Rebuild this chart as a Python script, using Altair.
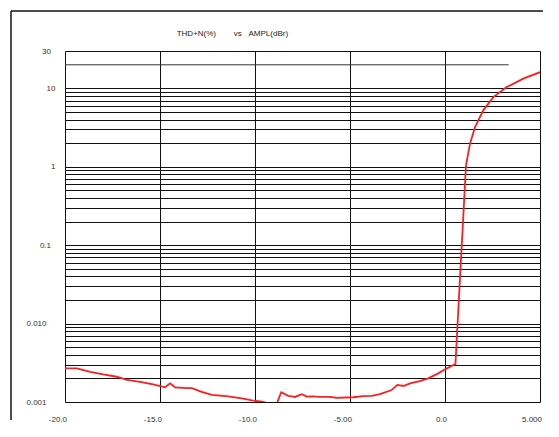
import altair as alt
import pandas as pd

# ---- data ----
dbr = [-20.0, -19.38, -18.68, -18.0, -17.28, -16.75, -16.05, -15.37, -14.74, -14.47,
       -14.21, -13.59, -13.33, -12.81, -12.28, -11.42, -10.70, -10.17, -9.65, -9.3,
       -8.85, -8.62, -8.26, -7.89, -7.54, -7.28, -6.95, -6.58, -6.05, -5.70,
       -4.83, -4.30, -3.86, -3.42, -2.81, -2.51, -2.19, -1.84, -1.32, -0.88,
       -0.35, 0.0, 0.55, 1.105, 1.316, 1.58, 2.016, 2.542, 3.247, 4.12, 5.0]
thd = [0.00269, 0.00269, 0.00243, 0.00225, 0.00210, 0.00191, 0.00181, 0.00168, 0.00154, 0.00173,
       0.00154, 0.00150, 0.00150, 0.00135, 0.00123, 0.00118, 0.00111, 0.00105, 0.00101, 0.00096,
       0.00096, 0.00133, 0.00120, 0.00116, 0.00126, 0.00117, 0.00118, 0.00116, 0.00116, 0.00113,
       0.00115, 0.00119, 0.00120, 0.00126, 0.00142, 0.00165, 0.00160, 0.00173, 0.00185, 0.00200,
       0.00232, 0.00261, 0.00305, 1.045, 1.975, 3.21, 5.25, 7.75, 10.4, 13.3, 16.1]

x_ticks = [-20, -15, -10, -5, 0, 5]
x_labels = ["-20.0", "-15.0", "-10.0", "-5.00", "0.0", "5.000"]

y_label_vals = [0.001, 0.01, 0.1, 1, 10, 30]
y_labels = ["0.001", "0.010", "0.1", "1", "10", "30"]
y_grid = [round(m * 10 ** k, 6) for k in range(-3, 1) for m in range(1, 10)] + [10, 30]

partial_grid = {"x0": [-20.0], "x1": [3.35], "v": [20.0]}

title_text = "THD+N(%)" + "\u00a0" * 8 + "vs" + "\u00a0" * 3 + "AMPL(dBr)"

FONT = "Liberation Sans"

df = pd.DataFrame({"dbr": dbr, "thd": thd})

x_expr = " : ".join(f"datum.value == {v} ? '{t}'" for v, t in zip(x_ticks, x_labels)) + " : ''"
y_expr = " : ".join(f"datum.value == {v} ? '{t}'" for v, t in zip(y_label_vals, y_labels)) + " : ''"

xscale = alt.Scale(domain=[-20, 5], nice=False, zero=False)
yscale = alt.Scale(type="log", domain=[0.001, 30], nice=False)

xaxis = alt.Axis(values=x_ticks, labelExpr=x_expr, grid=True, ticks=False, domain=False,
                 title=None, labelFont=FONT, labelFontSize=8, labelColor="#333",
                 labelAlign="right", labelOffset=1.5, labelPadding=13,
                 gridColor="#111", gridWidth=1, labelOverlap=False)
yaxis = alt.Axis(values=y_grid, labelExpr=y_expr, grid=True, ticks=False, domain=False,
                 title=None, labelFont=FONT, labelFontSize=8, labelColor="#333",
                 labelAlign="right", labelBaseline="middle", labelOverlap=False, labelBound=False,
                 labelPadding={"condition": [{"test": "datum.value <= 0.01", "value": 19},
                                             {"test": "datum.value == 1 || datum.value == 10", "value": 10}],
                               "value": 14.5},
                 gridColor="#111", gridWidth=1)

line = alt.Chart(df).mark_line(color="#ff1e1e", strokeWidth=1.8, clip=True).encode(
    x=alt.X("dbr:Q", scale=xscale, axis=xaxis),
    y=alt.Y("thd:Q", scale=yscale, axis=yaxis),
)

rule20 = alt.Chart(pd.DataFrame(partial_grid)).mark_rule(color="#333", strokeWidth=1).encode(
    x="x0:Q", x2="x1:Q", y="v:Q"
)

one_row = pd.DataFrame({"a": [0]})

frame_top = alt.Chart(one_row).mark_rule(color="#111", strokeWidth=1.5).encode(
    x=alt.value(-54), x2=alt.value(478), y=alt.value(-40)
)
frame_left = alt.Chart(one_row).mark_rule(color="#111", strokeWidth=1.5).encode(
    x=alt.value(-54), y=alt.value(-40), y2=alt.value(369)
)

title = alt.Chart(one_row).mark_text(
    text=title_text, font=FONT, fontSize=8, color="#222", align="left", baseline="middle"
).encode(x=alt.value(111.7), y=alt.value(-17))

chart = alt.layer(rule20, line, frame_top, frame_left, title).properties(
    width=475, height=351,
    padding={"left": 57, "top": 43, "right": 11, "bottom": 26},
    autosize=alt.AutoSizeParams(type="none"),
).configure_view(stroke="#111", strokeWidth=1).configure(background="white")

chart.save("out.html", embed_options={"renderer": "svg", "actions": False})
